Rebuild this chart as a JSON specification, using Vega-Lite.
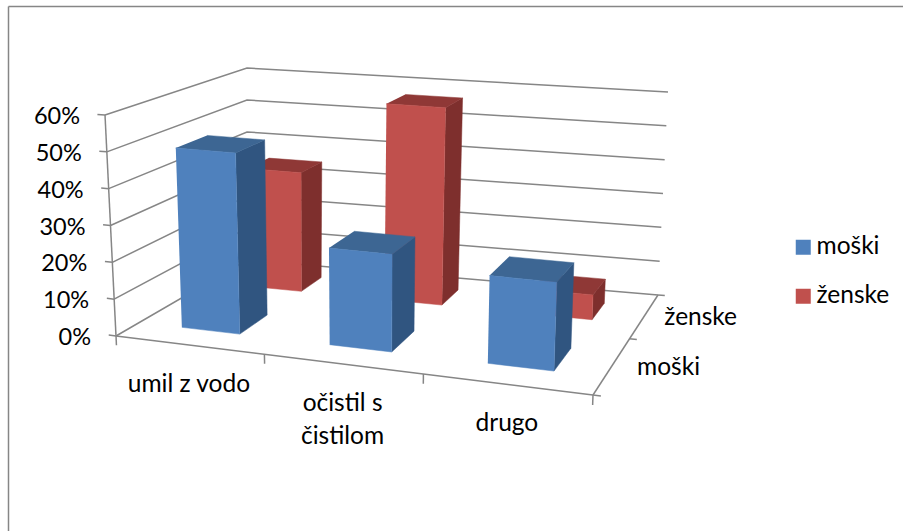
{
"$schema":"https://vega.github.io/schema/vega-lite/v6.json",
"width":895,"height":525,
"autosize":{"type":"none"},
"padding":{"left":8,"top":6,"right":0,"bottom":0},
"background":"white",
"config":{"view":{"stroke":null},"font":"Lato"},
"data":{"values":[
{"kind":"bar","cat":"umil z vodo","series":"ženske","value":35},
{"kind":"bar","cat":"očistil s čistilom","series":"ženske","value":57},
{"kind":"bar","cat":"drugo","series":"ženske","value":7},
{"kind":"bar","cat":"umil z vodo","series":"moški","value":49.5},
{"kind":"bar","cat":"očistil s čistilom","series":"moški","value":26},
{"kind":"bar","cat":"drugo","series":"moški","value":23},
{"kind":"grid","value":0},{"kind":"grid","value":10},{"kind":"grid","value":20},{"kind":"grid","value":30},{"kind":"grid","value":40},{"kind":"grid","value":50},{"kind":"grid","value":60},
{"kind":"axis","axis":"cat"},{"kind":"axis","axis":"depth"},{"kind":"axis","axis":"value"},
{"kind":"valueTick","value":0},{"kind":"valueTick","value":10},{"kind":"valueTick","value":20},{"kind":"valueTick","value":30},{"kind":"valueTick","value":40},{"kind":"valueTick","value":50},{"kind":"valueTick","value":60},
{"kind":"catTick","step":0},{"kind":"catTick","step":1},{"kind":"catTick","step":2},{"kind":"catTick","step":3},
{"kind":"depthTick","step":0},{"kind":"depthTick","step":0.48},{"kind":"depthTick","step":1},
{"kind":"valueLabel","value":0},{"kind":"valueLabel","value":10},{"kind":"valueLabel","value":20},{"kind":"valueLabel","value":30},{"kind":"valueLabel","value":40},{"kind":"valueLabel","value":50},{"kind":"valueLabel","value":60},
{"kind":"catLabel","cat":"umil z vodo"},{"kind":"catLabel","cat":"očistil s čistilom"},{"kind":"catLabel","cat":"drugo"},
{"kind":"depthLabel","series":"moški"},{"kind":"depthLabel","series":"ženske"}
]},
"transform":[
{"calculate":"indexof(['umil z vodo','očistil s čistilom','drugo'],datum.cat)","as":"c"},
{"calculate":"(datum.c+0.5)/3-0.0667","as":"u0"},
{"calculate":"(datum.c+0.5)/3+0.0667","as":"u1"},
{"calculate":"datum.series==='moški'?0.14:0.63","as":"v0"},
{"calculate":"datum.v0+0.2","as":"v1"},
{"calculate":"datum.kind==='bar'?[{f:'front',k:0,u:datum.u0,v:datum.v0,w:0},{f:'front',k:1,u:datum.u1,v:datum.v0,w:0},{f:'front',k:2,u:datum.u1,v:datum.v0,w:datum.value},{f:'front',k:3,u:datum.u0,v:datum.v0,w:datum.value},{f:'side',k:0,u:datum.u1,v:datum.v0,w:0},{f:'side',k:1,u:datum.u1,v:datum.v1,w:0},{f:'side',k:2,u:datum.u1,v:datum.v1,w:datum.value},{f:'side',k:3,u:datum.u1,v:datum.v0,w:datum.value},{f:'top',k:0,u:datum.u0,v:datum.v0,w:datum.value},{f:'top',k:1,u:datum.u1,v:datum.v0,w:datum.value},{f:'top',k:2,u:datum.u1,v:datum.v1,w:datum.value},{f:'top',k:3,u:datum.u0,v:datum.v1,w:datum.value}]:datum.kind==='grid'?[{f:'l',k:0,u:0,v:0,w:datum.value},{f:'l',k:1,u:0,v:1,w:datum.value},{f:'l',k:2,u:1,v:1,w:datum.value}]:datum.axis==='cat'?[{f:'l',k:0,u:0,v:0,w:0},{f:'l',k:1,u:1,v:0,w:0}]:datum.axis==='depth'?[{f:'l',k:0,u:1,v:0,w:0},{f:'l',k:1,u:1,v:1,w:0}]:datum.axis==='value'?[{f:'l',k:0,u:0,v:0,w:0},{f:'l',k:1,u:0,v:0,w:60}]:datum.kind==='valueTick'?[{f:'l',k:0,u:-0.017,v:0,w:datum.value},{f:'l',k:1,u:0,v:0,w:datum.value}]:datum.kind==='catTick'?[{f:'l',k:0,u:datum.step/3,v:0,w:0},{f:'l',k:1,u:datum.step/3,v:0,w:-2.5}]:datum.kind==='depthTick'?[{f:'l',k:0,u:1,v:datum.step,w:0},{f:'l',k:1,u:1.015,v:datum.step,w:0}]:datum.kind==='valueLabel'?[{f:'t',k:0,u:0,v:0,w:datum.value}]:datum.kind==='catLabel'?[{f:'t',k:0,u:(datum.c+0.5)/3,v:0,w:0}]:[{f:'t',k:0,u:1,v:datum.series==='moški'?0.24:0.73,w:0}]","as":"pts"},
{"flatten":["pts"]},
{"calculate":"datum.pts.f","as":"face"},
{"calculate":"datum.pts.k","as":"corner"},
{"calculate":"datum.pts.u*(0.90+0.10*datum.pts.u)","as":"uw"},
{"calculate":"datum.pts.v*(1.33-0.33*datum.pts.v)","as":"vw"},
{"calculate":"datum.pts.w/60","as":"t"},
{"calculate":"(1-datum.vw)*(116+477*datum.uw)+datum.vw*(247+411*datum.uw)","as":"x0"},
{"calculate":"(1-datum.vw)*(336+59*datum.uw)+datum.vw*(260+35*datum.uw)","as":"y0"},
{"calculate":"(1-datum.vw)*(105+497*datum.uw)+datum.vw*(247+421*datum.uw)","as":"x6"},
{"calculate":"(1-datum.vw)*(115+40*datum.uw)+datum.vw*(68+24*datum.uw)","as":"y6"},
{"calculate":"datum.x0+(datum.x6-datum.x0)*datum.t","as":"X"},
{"calculate":"datum.y0+(datum.y6-datum.y0)*datum.t","as":"Y"},
{"calculate":"datum.kind+'|'+datum.cat+'|'+datum.series+'|'+datum.value+'|'+datum.axis+'|'+datum.step+'|'+datum.face","as":"id"},
{"calculate":"datum.cat==='očistil s čistilom'?'očistil s\\nčistilom':datum.cat","as":"catText"},
{"calculate":"datum.value+'%'","as":"valueText"}
],
"encoding":{
"x":{"field":"X","type":"quantitative","scale":{"domain":[8,903],"nice":false,"zero":false},"axis":{"orient":"top","title":null,"ticks":false,"labels":false,"grid":false,"domain":true,"domainColor":"#868686","domainWidth":1.5}},
"y":{"field":"Y","type":"quantitative","scale":{"domain":[531,6],"nice":false,"zero":false},"axis":{"orient":"left","title":null,"ticks":false,"labels":false,"grid":false,"domain":true,"domainColor":"#868686","domainWidth":1.5}}
},
"layer":[
{"transform":[{"filter":"datum.face==='l'"}],"mark":{"type":"line","stroke":"#868686","strokeWidth":1.5,"clip":false},"encoding":{"detail":{"field":"id"},"order":{"field":"corner","type":"quantitative"}}},
{"transform":[{"filter":"datum.kind==='bar'&&datum.series==='ženske'&&datum.face==='side'"}],"mark":{"type":"line","fill":"#7E2F2D","stroke":"#7E2F2D","strokeWidth":0.5},"encoding":{"detail":{"field":"id"},"order":{"field":"corner","type":"quantitative"}}},
{"transform":[{"filter":"datum.kind==='bar'&&datum.series==='ženske'&&datum.face==='top'"}],"mark":{"type":"line","fill":"#8F3836","stroke":"#8F3836","strokeWidth":0.5},"encoding":{"detail":{"field":"id"},"order":{"field":"corner","type":"quantitative"}}},
{"transform":[{"filter":"datum.kind==='bar'&&datum.series==='ženske'&&datum.face==='front'"}],"mark":{"type":"line","fill":"#C0504D","stroke":"#C0504D","strokeWidth":0.5},"encoding":{"detail":{"field":"id"},"order":{"field":"corner","type":"quantitative"}}},
{"transform":[{"filter":"datum.kind==='bar'&&datum.series==='moški'&&datum.face==='side'"}],"mark":{"type":"line","fill":"#305580","stroke":"#305580","strokeWidth":0.5},"encoding":{"detail":{"field":"id"},"order":{"field":"corner","type":"quantitative"}}},
{"transform":[{"filter":"datum.kind==='bar'&&datum.series==='moški'&&datum.face==='top'"}],"mark":{"type":"line","fill":"#3D6693","stroke":"#3D6693","strokeWidth":0.5},"encoding":{"detail":{"field":"id"},"order":{"field":"corner","type":"quantitative"}}},
{"transform":[{"filter":"datum.kind==='bar'&&datum.series==='moški'&&datum.face==='front'"}],"mark":{"type":"line","fill":"#4F81BD","stroke":"#4F81BD","strokeWidth":0.5},"encoding":{"detail":{"field":"id"},"order":{"field":"corner","type":"quantitative"}}},
{"transform":[{"filter":"datum.kind==='bar'&&datum.face==='front'&&datum.corner===0"}],"mark":{"type":"square","size":0,"opacity":0},"encoding":{"color":{"field":"series","type":"nominal","scale":{"domain":["moški","ženske"],"range":["#4F81BD","#C0504D"]},"legend":{"orient":"none","legendX":783,"legendY":229,"title":null,"symbolType":"square","symbolSize":225,"symbolOpacity":1,"symbolStrokeWidth":0,"labelFont":"Lato","labelFontSize":24.5,"labelColor":"#000000","labelOffset":1,"rowPadding":24,"labelLimit":200}}}},
{"transform":[{"filter":"datum.kind==='valueLabel'"}],"mark":{"type":"text","align":"right","baseline":"middle","dx":-25,"dy":2,"fontSize":23.5,"font":"Lato","color":"#000000"},"encoding":{"text":{"field":"valueText"}}},
{"transform":[{"filter":"datum.kind==='catLabel'"}],"mark":{"type":"text","align":"center","baseline":"top","dy":28,"fontSize":24.5,"font":"Lato","color":"#000000","lineBreak":"\n","lineHeight":33},"encoding":{"text":{"field":"catText"}}},
{"transform":[{"filter":"datum.kind==='depthLabel'"}],"mark":{"type":"text","align":"center","baseline":"middle","dx":56,"dy":3,"fontSize":24.5,"font":"Lato","color":"#000000"},"encoding":{"text":{"field":"series"}}}
]
}
